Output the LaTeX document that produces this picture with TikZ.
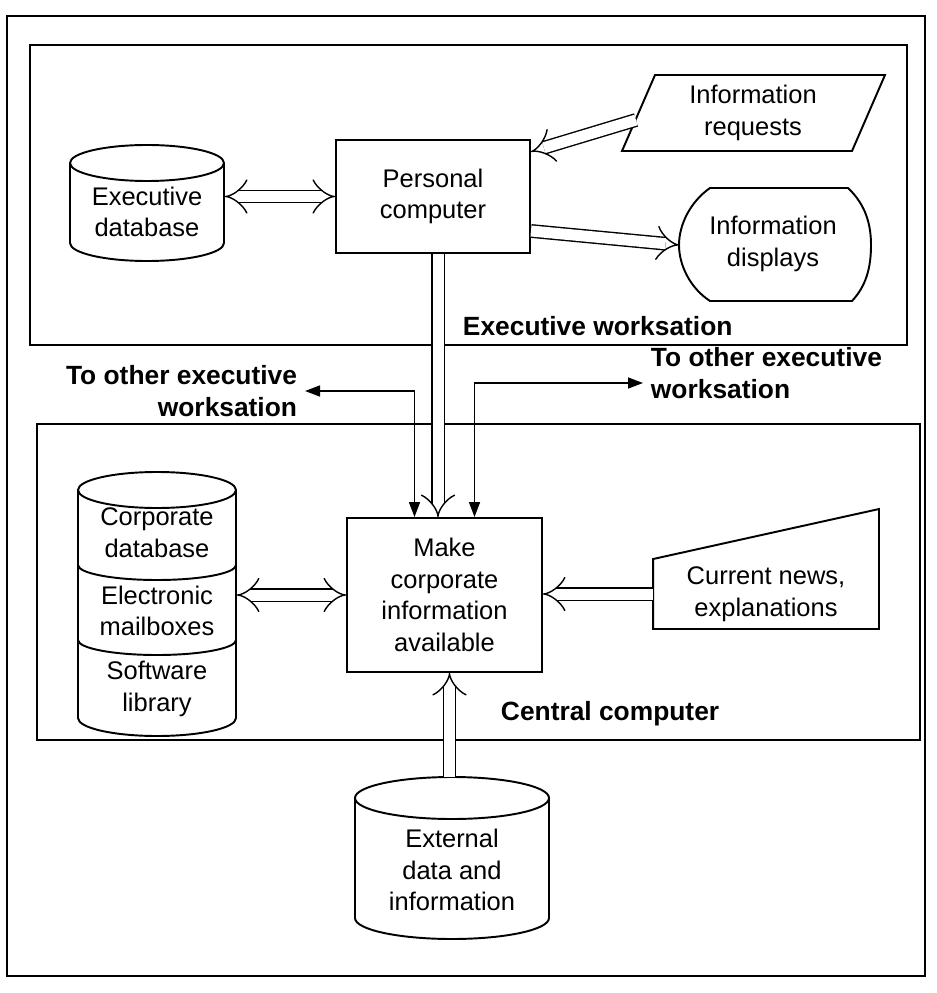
\documentclass[tikz,border=0pt]{standalone}
\usepackage{fontspec}
\setmainfont{Liberation Sans}
\usetikzlibrary{arrows.meta,calc}

\begin{document}
\begin{tikzpicture}[x=0.2mm, y=0.2mm, line width=1.1pt,
  font=\fontsize{14.5}{18}\selectfont,
  proc/.style={rectangle, draw, fill=white, align=center},
  txt/.style={align=center, inner sep=0pt},
  lbl/.style={font=\fontsize{15}{18.5}\selectfont\bfseries, inner sep=1.4mm},
  dbl/.style={double, double distance=2.2mm, line width=0.8pt, -{Implies}},
  link/.style={line width=0.9pt, {Triangle[length=3mm,width=2.2mm]}-{Triangle[length=3mm,width=2.2mm]}}
  ]
  \useasboundingbox (0,0) rectangle (936,-993);
  %% frames
  \draw (7,-16) rectangle (925,-976);
  \draw (30,-45) rectangle (907,-345);
  \draw (37,-424) rectangle (920,-740);
  \node[lbl, anchor=west] (exws) at (455,-326) {Executive worksation};
  \node[lbl, anchor=west] (cenc) at (493,-714) {Central computer};
  \node[lbl, anchor=east, align=right] (lothers) at (305,-391) {To other executive\\worksation};
  \node[lbl, anchor=west, align=left] (rothers) at (643,-373) {To other executive\\worksation};

  %% executive workstation
  \draw (70,-163) -- (70,-243) arc[start angle=180, end angle=360, x radius=15.4mm, y radius=3.6mm]
    -- (224,-163) arc[start angle=0, end angle=360, x radius=15.4mm, y radius=3.6mm];
  \node[txt, minimum width=30.8mm] (execdb) at (147,-212) {Executive\\database};
  \node[proc, minimum width=38.8mm, minimum height=22.6mm] (pc) at (433,-196.5) {Personal\\computer};
  \draw (655,-75) -- (885,-75) -- (852,-151) -- (622,-151) -- cycle;
  \node[txt] (req) at (753,-113) {Information\\requests};
  \coordinate (reqin) at (636,-120);
  \draw (710,-188) -- (848,-188) .. controls (866,-205) and (871,-225) .. (871,-245)
    .. controls (871,-268) and (866,-286) .. (852,-301) -- (710,-301)
    .. controls (690,-288) and (679,-265) .. (679,-245)
    .. controls (679,-225) and (690,-202) .. (710,-188) -- cycle;
  \node[txt] (disp) at (773,-244) {Information\\displays};
  \coordinate (dispin) at (679,-245);

  %% central computer
  \draw (78,-490) -- (78,-718) arc[start angle=180, end angle=360, x radius=15.8mm, y radius=3.6mm]
    -- (236,-490) arc[start angle=0, end angle=360, x radius=15.8mm, y radius=3.6mm];
  \draw (78,-565) arc[start angle=180, end angle=360, x radius=15.8mm, y radius=3mm];
  \draw (78,-640) arc[start angle=180, end angle=360, x radius=15.8mm, y radius=3mm];
  \node[txt, minimum width=31.6mm] (corpdb) at (157,-533) {Corporate\\database};
  \node[txt, minimum width=31.6mm] (mail) at (157,-611) {Electronic\\mailboxes};
  \node[txt, minimum width=31.6mm] (soft) at (157,-689) {Software\\library};
  \node[proc, minimum width=39mm, minimum height=30.8mm] (make) at (444.5,-595) {Make\\corporate\\information\\available};
  \node[txt, minimum width=44.8mm, minimum height=13.6mm] (news) at (766,-594) {Current news,\\explanations};
  \draw (news.south west) -- (news.north west) -- ($(news.north east)+(0,50)$) -- (news.south east) -- cycle;

  %% external data
  \draw (355,-798) -- (355,-918) arc[start angle=180, end angle=360, x radius=19.4mm, y radius=4.2mm]
    -- (549,-798) arc[start angle=0, end angle=360, x radius=19.4mm, y radius=4.2mm];
  \node[txt, minimum width=38.8mm] (ext) at (452,-870) {External\\data and\\information};
  \coordinate (extop) at (452,-777);

  %% connectors
  \draw[dbl, {Implies}-{Implies}] (pc.west -| execdb.east) -- (pc.west);
  \draw[dbl] (reqin) -- ($(pc.north east)!0.11!(pc.south east)$);
  \draw[dbl] ($(pc.north east)!0.8!(pc.south east)$) -- (dispin);
  \draw[dbl] ([xshift=1mm]pc.south) -- ([xshift=1mm]pc.south |- make.north);
  \draw[link] (lothers.east) -| ([xshift=-6mm]make.north);
  \draw[link] ([yshift=-2mm]rothers.west) -| ([xshift=6mm]make.north);
  \draw[dbl, {Implies}-{Implies}] (make.west -| mail.east) -- (make.west);
  \draw[dbl] (news.west) -- (news.west -| make.east);
  \draw[dbl] ([xshift=1mm]make.south |- extop) -- ([xshift=1mm]make.south);
\end{tikzpicture}
\end{document}
